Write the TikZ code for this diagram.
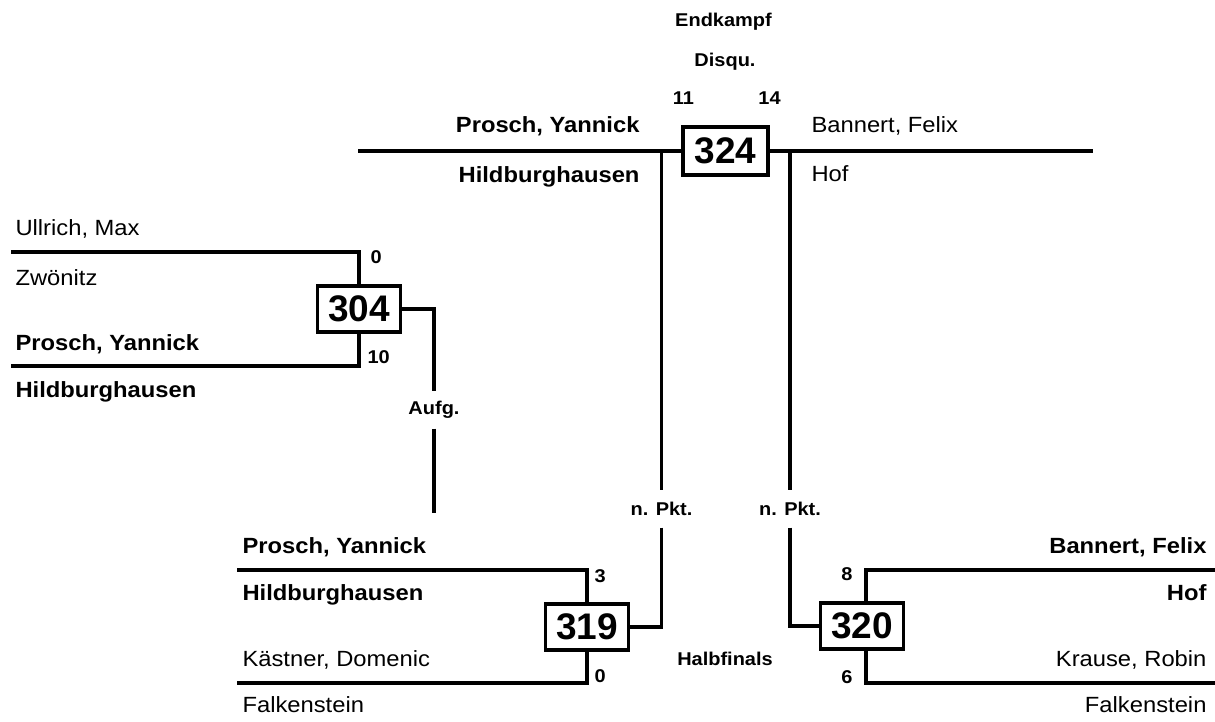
\documentclass[tikz,border=0pt]{standalone}
\usepackage{fontspec}
\setmainfont{Liberation Sans}[FakeStretch=1.08]
\newfontfamily\numfont{Liberation Sans}

\begin{document}
\begin{tikzpicture}[x=1pt,y=-1pt,
	line/.style={line width=3.2pt},
	fight/.style={draw,line width=3.2pt,minimum width=83pt,minimum height=46pt,inner sep=0pt,font=\numfont\fontsize{37}{37}\selectfont\bfseries},
	loser/.style={font=\fontsize{22}{24}\selectfont},
	winner/.style={font=\fontsize{22}{24}\selectfont\bfseries},
	score/.style={font=\fontsize{18.5}{20}\selectfont\bfseries},
	note/.style={inner sep=0pt,minimum height=37pt,font=\fontsize{18.5}{20}\selectfont\bfseries}]
	\useasboundingbox (0,0) rectangle (1215,722);
	% fights
	\node[fight] (m304) at (359,309) {304};
	\node[fight] (m319) at (587,627) {319};
	\node[fight] (m320) at (862,626) {320};
	\node[fight,minimum width=85pt,minimum height=48pt] (m324) at (725.5,151) {324};
	% remarks on the connectors
	\node[note] (aufg) at (434,410) {Aufg.};
	\node[note] (pktL) at (661.5,509) {n. Pkt.};
	\node[note] (pktR) at (790,509) {n. Pkt.};
	% line ends
	\coordinate (u304) at (11,252);
	\coordinate (d304) at (11,366);
	\coordinate (e304) at (434,513);
	\coordinate (u319) at (237,570);
	\coordinate (d319) at (237,683);
	\coordinate (u320) at (1215,570);
	\coordinate (d320) at (1215,683);
	\coordinate (l324) at (358,151);
	\coordinate (r324) at (1093,151);
	% brackets
	\draw[line] (u304) -| (m304.north);
	\draw[line] (d304) -| (m304.south);
	\draw[line] (m304.east) -| (aufg.north);
	\draw[line] (aufg.south) -- (e304);
	\draw[line] (u319) -| (m319.north);
	\draw[line] (d319) -| (m319.south);
	\draw[line] (u320) -| ([xshift=4pt]m320.north);
	\draw[line] (d320) -| ([xshift=4pt]m320.south);
	\draw[line] (l324) -- (m324.west);
	\draw[line] (m324.east) -- (r324);
	\draw[line] (pktL.north |- m324.west) -- (pktL.north);
	\draw[line] (pktL.south) |- (m319.east);
	\draw[line] (pktR.north |- m324.east) -- (pktR.north);
	\draw[line] (pktR.south) |- (m320.west);
	% fighters
	\node[loser,anchor=base west] (n304a) at (12,236) {Ullrich, Max};
	\node[loser,anchor=base west] (c304a) at (12,285) {Zwönitz};
	\node[winner,anchor=base west] (n304b) at (12,350) {Prosch, Yannick};
	\node[winner,anchor=base west] (c304b) at (12,397) {Hildburghausen};
	\node[winner,anchor=base east] (n324a) at (643,133) {Prosch, Yannick};
	\node[winner,anchor=base east] (c324a) at (643,183) {Hildburghausen};
	\node[loser,anchor=base west] (n324b) at (808,133) {Bannert, Felix};
	\node[loser,anchor=base west] (c324b) at (808,182) {Hof};
	\node[winner,anchor=base west] (n319a) at (239,553) {Prosch, Yannick};
	\node[winner,anchor=base west] (c319a) at (239,600) {Hildburghausen};
	\node[loser,anchor=base west] (n319b) at (239,666) {Kästner, Domenic};
	\node[loser,anchor=base west] (c319b) at (239,712) {Falkenstein};
	\node[winner,anchor=base east] (n320a) at (1210,553) {Bannert, Felix};
	\node[winner,anchor=base east] (c320a) at (1210,600) {Hof};
	\node[loser,anchor=base east] (n320b) at (1210,666) {Krause, Robin};
	\node[loser,anchor=base east] (c320b) at (1210,712) {Falkenstein};
	% scores
	\node[score,anchor=base west] (s304a) at (367,263) {0};
	\node[score,anchor=base west] (s304b) at (364,363) {10};
	\node[score,anchor=base west] (s319a) at (591,582) {3};
	\node[score,anchor=base west] (s319b) at (591,682) {0};
	\node[score,anchor=base east] (s320a) at (856,580) {8};
	\node[score,anchor=base east] (s320b) at (856,683) {6};
	\node[score,anchor=base] (s324a) at (683.5,105) {11};
	\node[score,anchor=base] (s324b) at (769.5,105) {14};
	% rounds
	\node[score,anchor=base] (final) at (723.5,27) {Endkampf};
	\node[score,anchor=base] (disq) at (725,67) {Disqu.};
	\node[score,anchor=base] (semi) at (725,665) {Halbfinals};
\end{tikzpicture}
\end{document}
